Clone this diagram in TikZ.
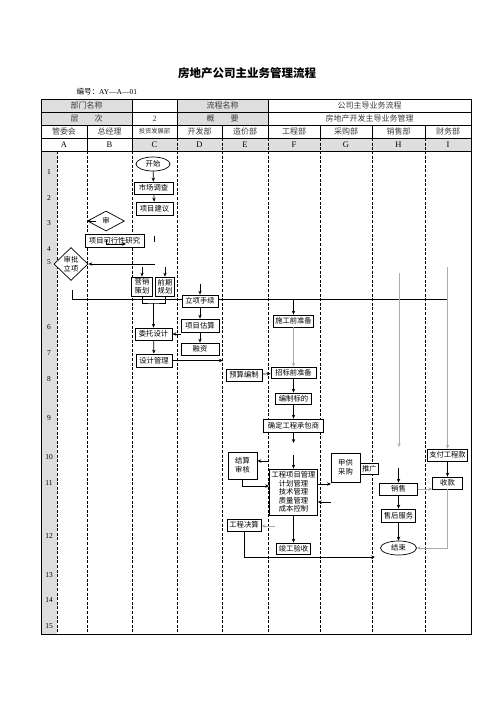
\documentclass[tikz,border=0pt]{standalone}
\usepackage{fontspec}
\setmainfont{Liberation Serif}
\newfontfamily\cjk{Noto Sans CJK SC}
\usetikzlibrary{positioning,calc,arrows.meta,shapes.geometric}
\definecolor{hdrgray}{HTML}{DEDEDE}
\definecolor{txtgray}{HTML}{3A3A3A}

\begin{document}
\begin{tikzpicture}[x=1pt, y=-1pt,
  box/.style={draw, fill=white, line width=0.7pt, inner sep=1pt,
             minimum height=12pt, align=center,
             font=\cjk\fontsize{7.3}{8.6}\selectfont},
  oval/.style={draw, fill=white, ellipse, line width=0.7pt, inner sep=0pt,
             minimum width=34pt, minimum height=14pt,
             font=\cjk\fontsize{7.3}{8.6}\selectfont},
  dia/.style={draw, fill=white, diamond, line width=0.7pt, inner sep=0pt,
             align=center, font=\cjk\fontsize{7.3}{8.6}\selectfont},
  hdr/.style={text=txtgray, font=\cjk\fontsize{8}{9}\selectfont},
  letter/.style={font=\fontsize{8.5}{10}\selectfont},
  rownum/.style={font=\fontsize{7.5}{9}\selectfont},
  lane/.style={line width=0.7pt, dash pattern=on 3pt off 1.6pt},
  arr/.style={line width=0.7pt, -{Stealth[length=4pt,width=3.4pt]}},
  arrg/.style={line width=0.8pt, gray!65, -{Stealth[length=4pt,width=3.4pt]}},
]
\useasboundingbox (0,0) rectangle (496,702);

% title and number
\node[font=\cjk\bfseries\fontsize{11.5}{13}\selectfont] (title) at (247,73) {房地产公司主业务管理流程};
\node[anchor=west, font=\fontsize{7.5}{9}\selectfont] (code) at (73,92) {{\cjk 编号：}AY—A—01};

% header shading
\fill[hdrgray] (41,99) rectangle (132,125);
\fill[hdrgray] (177,99) rectangle (268,125);
\fill[hdrgray] (132,138) rectangle (471,151);
\fill[hdrgray] (41,151) rectangle (57,634);

% table lines
\foreach \y in {112,125,138,151}
  \draw[line width=0.7pt] (41,\y) -- (471,\y);
\foreach \x in {132,177,268}
  \draw[line width=0.7pt] (\x,99) -- (\x,125);
\foreach \x in {87,132,177,222,268,320,372,425}
  \draw[line width=0.7pt] (\x,125) -- (\x,138);
\foreach \x in {87,132}
  \draw[line width=0.7pt] (\x,138) -- (\x,151);
\foreach \x in {177,222,268,320,372,425}
  \draw[lane] (\x,138) -- (\x,151);
\foreach \x in {57,87,132,177,222,268,320,372,425}
  \draw[lane] (\x,151) -- (\x,634);
\draw[line width=0.9pt] (41,99) rectangle (471,634);

% header texts
\node[hdr] (h1a) at (86.5,105.5) {部门名称};
\node[hdr] (h1b) at (222.5,105.5) {流程名称};
\node[hdr] (h1c) at (369.5,105.5) {公司主导业务流程};
\node[hdr] (h2a) at (86.5,118.5) {层\hspace{2em}次};
\node[hdr, font=\fontsize{8}{9}\selectfont] (h2b) at (154.5,118.5) {2};
\node[hdr] (h2c) at (222.5,118.5) {概\hspace{2em}要};
\node[hdr] (h2d) at (369.5,118.5) {房地产开发主导业务管理};
\foreach \d/\x [count=\i] in {管委会/64,总经理/109.5,开发部/199.5,造价部/245,
    工程部/294,采购部/346,销售部/398.5,财务部/448}
  \node[hdr] (dep\i) at (\x,131.5) {\d};
\node[hdr, font=\cjk\fontsize{6.3}{7}\selectfont] (depC) at (154.5,131.5) {投资发展部};
\foreach \l/\x in {A/64,B/109.5,C/154.5,D/199.5,E/245,F/294,G/346,H/398.5,I/448}
  \node[letter] (col\l) at (\x,144.5) {\l};

% row numbers
\foreach \n/\y in {1/172,2/198,3/223,4/249,5/262,6/327,7/353,8/379,9/418,
    10/457,11/483,12/536,13/575,14/600,15/626}
  \node[rownum] (row\n) at (49,\y) {\n};

% long line across
\coordinate (hlL) at (72,290);
\coordinate (hlR) at (447.5,299);
\draw[line width=0.8pt] (hlL) |- (hlR);

% column C and B
\node[oval] (start) at (153,164) {开始};
\node[box, minimum width=39pt] (survey) at (153.5,188) {市场调查};
\node[box, minimum width=37pt, minimum height=13pt] (propose) at (154.5,208.5) {项目建议};
\node[dia, minimum width=37pt, minimum height=20pt] (shen) at (106,221) {审};
\node[box, minimum width=59pt, minimum height=13pt] (feasible) at (114.5,240.5) {项目可行性研究};
\node[dia, minimum width=34pt, minimum height=33pt] (approve) at (71,264) {审批\\立项};
\node[box, minimum width=21pt, minimum height=19pt] (market) at (142,286.5) {营销\\策划};
\node[box, minimum width=19pt, minimum height=19pt] (preplan) at (165,286.5) {前期\\规划};
\node[box, minimum width=37pt] (entrust) at (153.5,334) {委托设计};
\node[box, minimum width=36pt, minimum height=13pt] (designmgmt) at (154,360.5) {设计管理};

% column D
\node[box, minimum width=36pt] (formalities) at (200,301) {立项手续};
\node[box, minimum width=38pt, minimum height=13pt] (estimate) at (200,325.5) {项目估算};
\node[box, minimum width=38pt] (finance) at (200,349) {融资};

% columns E and F
\node[box, minimum width=40pt] (prebuild) at (293.5,321) {施工前准备};
\node[box, minimum width=45pt, minimum height=11pt] (pretender) at (293.5,372.5) {招标前准备};
\node[box, minimum width=36pt] (budget) at (244,375) {预算编制};
\node[box, minimum width=36pt, minimum height=11pt] (tenderdoc) at (293.5,398.5) {编制标的};
\node[box, minimum width=60pt, minimum height=13pt] (contractor) at (293.5,425.5) {确定工程承包商};
\node[box, minimum width=48pt, minimum height=46pt] (projmgmt) at (293.5,492)
  {工程项目管理\\计划管理\\技术管理\\质量管理\\成本控制};
\node[box, minimum width=29pt, minimum height=27pt] (settle) at (242.5,465.5) {结算\\审核};
\node[box, minimum width=34pt] (finalacc) at (244,525) {工程决算};
\node[box, minimum width=34pt, minimum height=11pt] (accept) at (293.5,548.5) {竣工验收};

% columns G, H and I
\node[box, minimum width=29pt, minimum height=29pt] (supply) at (345.5,467.5) {甲供\\采购};
\node[box, minimum width=18pt, minimum height=11pt, anchor=west] (promo) at (360,468.5) {推广};
\node[box, minimum width=38pt] (sales) at (398.5,489) {销售};
\node[box, minimum width=34pt, minimum height=13pt] (aftersale) at (398.5,515.5) {售后服务};
\node[oval, minimum width=36pt] (finish) at (398.5,548) {结束};
\node[box, minimum width=40pt] (paywork) at (447.5,455) {支付工程款};
\node[box, minimum width=30pt] (collect) at (447.5,483) {收款};

% free ends
\coordinate (shenIn) at (96,221);
\coordinate (feasL) at (106,239.5);
\coordinate (feasR) at (126,244);
\coordinate (tickA) at (154,236);
\coordinate (tickB) at (154,242);
\coordinate (appIn) at (155,264);
\coordinate (mkIn) at (142,267);
\coordinate (ppIn) at (165,267);
\coordinate (joinC) at (153.5,303);
\coordinate (dmOut) at (223,360.5);
\coordinate (dIn) at (200,284);
\coordinate (fIn) at (293.5,299);
\coordinate (fMidA) at (293.5,443);
\coordinate (fMidB) at (293.5,455);
\coordinate (pmOut) at (331,484);
\coordinate (pmIn) at (331,502);
\coordinate (setIn) at (268,461);
\coordinate (faIn) at (275,526);
\coordinate (endIn) at (375,557);
\coordinate (hTop) at (399,273);
\coordinate (hBot) at (399,447);
\coordinate (hIn) at (398.5,468);
\coordinate (iTop) at (447.5,267);

% connectors
\draw[arr] (start) -- (survey);
\draw[arr] (survey) -- (propose);
\draw[arr] (shenIn) -- (shen.west);
\draw[arr] (feasL) |- (feasR);
\draw[line width=0.7pt] (tickA) -- (tickB);
\draw[arr] (appIn) -- (approve.east);
\draw[arr] (mkIn) -- (market);
\draw[arr] (ppIn) -- (preplan);
\draw[line width=0.7pt] (market.south) |- (joinC) -| (preplan.south);
\draw[arr] (joinC) -- (entrust);
\draw[arr] (entrust) -- (designmgmt);
\draw[arr] (designmgmt.east) -- (dmOut);
\draw[arr] (dIn) -- (formalities);
\draw[arr] (formalities) -- (estimate);
\draw[arr] (estimate) -- (finance);
\draw[arr] (estimate.west |- entrust.east) -- (entrust.east);
\draw[arr] (fIn) -- (prebuild);
\draw[arrg] (prebuild) -- (pretender);
\draw[arr] (budget) -- (pretender);
\draw[arr] (pretender) -- (tenderdoc);
\draw[arr] (tenderdoc) -- (contractor);
\draw[arr] (contractor) -- (fMidA);
\draw[arr] (fMidB) -- (projmgmt);
\draw[arr] (projmgmt.east |- pmOut) -- (pmOut);
\draw[arr] (pmIn) -- (projmgmt.east |- pmIn);
\draw[arr] (setIn) -- (settle.east |- setIn);
\draw[arr] (settle.south) |- ($(projmgmt.west)+(0,-6)$);
\draw[arrg] (faIn) -- (finalacc.east |- faIn);
\draw[arr] (projmgmt) -- (accept);
\draw[arr] (finalacc.south) |- (endIn);
\draw[arrg] (hTop) -- (hBot);
\draw[arr] (hIn) -- (sales);
\draw[arrg] (sales.east) -- (sales.east -| collect.west);
\draw[arr] (sales) -- (aftersale);
\draw[arr] (aftersale) -- (finish);
\draw[arrg] (collect.south) |- (finish.east);
\draw[arrg] (iTop) -- (paywork);
\draw[arr] (paywork) -- (collect);
\end{tikzpicture}
\end{document}
